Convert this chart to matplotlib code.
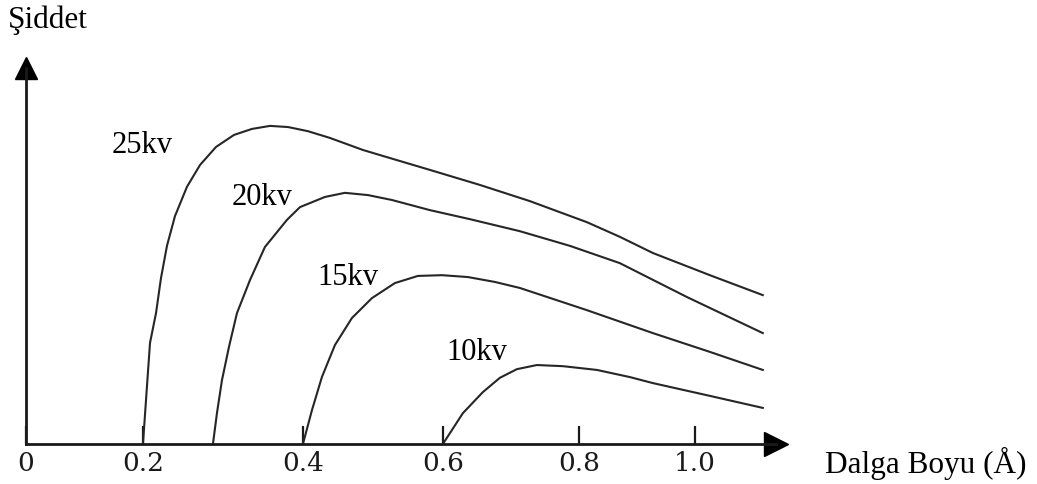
import numpy as np
import matplotlib
matplotlib.use("Agg")
import matplotlib.pyplot as plt

# wavelength (Angstrom) and intensity (arbitrary units)
wl_25 = [0.2, 0.2038, 0.2088, 0.2163, 0.2225, 0.23, 0.24, 0.255, 0.2713, 0.2913,
         0.3138, 0.3363, 0.3588, 0.3813, 0.4071, 0.4386, 0.4857, 0.5343, 0.5814,
         0.6544, 0.7279, 0.8138, 0.8707, 0.9276, 1.0259, 1.1172]
int_25 = [0.0, 1.17, 2.69, 3.48, 4.41, 5.27, 6.06, 6.84, 7.42, 7.90,
          8.22, 8.38, 8.46, 8.43, 8.32, 8.14, 7.82, 7.55, 7.29,
          6.89, 6.46, 5.90, 5.51, 5.08, 4.49, 3.96]

wl_20 = [0.2875, 0.2925, 0.2988, 0.3075, 0.3175, 0.3338, 0.3525, 0.38, 0.3963,
         0.4314, 0.46, 0.4929, 0.5271, 0.5814, 0.6397, 0.7132, 0.7868, 0.8707,
         0.9862, 1.1172]
int_20 = [0.0, 0.82, 1.70, 2.58, 3.48, 4.36, 5.24, 5.96, 6.30,
          6.57, 6.68, 6.62, 6.49, 6.22, 5.98, 5.66, 5.27, 4.81,
          3.91, 2.95]

wl_15 = [0.4, 0.4129, 0.4271, 0.4457, 0.47, 0.4986, 0.5314, 0.5643, 0.5986,
         0.6368, 0.6765, 0.7132, 0.8138, 0.9276, 1.0259, 1.1172]
int_15 = [0.0, 0.90, 1.78, 2.63, 3.35, 3.88, 4.28, 4.47, 4.49,
          4.44, 4.31, 4.15, 3.56, 2.95, 2.45, 1.97]

wl_10 = [0.6, 0.6294, 0.6588, 0.6838, 0.7088, 0.7382, 0.7765, 0.831, 0.8879,
         0.9276, 1.0259, 1.1172]
int_10 = [0.0, 0.82, 1.38, 1.76, 1.99, 2.10, 2.07, 1.97, 1.78,
          1.62, 1.28, 0.96]

labels = ["25kv", "20kv", "15kv", "10kv"]
label_x = [0.198, 0.349, 0.464, 0.650]
label_y = [7.74, 6.36, 4.23, 2.23]

tick_values = [0, 0.2, 0.4, 0.6, 0.8, 1.0]
tick_labels = ["0", "0.2", "0.4", "0.6", "0.8", "1.0"]

# the hand drawn axis is not evenly spaced, so map it piecewise
SCALE_IN = [-1.0, 0.0, 0.2, 0.4, 0.6, 0.8, 1.0, 1.2, 3.0]
SCALE_OUT = [-559, 26, 143, 303, 443, 579, 695, 811, 1855]


def forward(x):
    return np.interp(x, SCALE_IN, SCALE_OUT)


def inverse(p):
    return np.interp(p, SCALE_OUT, SCALE_IN)


line_color = "#262626"
serif = ["Liberation Serif", "DejaVu Serif"]

fig = plt.figure(figsize=(10.37, 4.84), dpi=100)
ax = fig.add_axes([26 / 1037, 40 / 484, 750 / 1037, 376 / 484])

ax.set_xscale("function", functions=(forward, inverse))
ax.set_xlim(0, 1.14)
ax.set_ylim(0, 10)

for wl, inten in [(wl_25, int_25), (wl_20, int_20), (wl_15, int_15), (wl_10, int_10)]:
    ax.plot(wl, inten, color=line_color, linewidth=1.5, solid_joinstyle="round")

for text, x, y in zip(labels, label_x, label_y):
    ax.text(x, y, text, ha="center", va="baseline", fontsize=22, family=serif)

ax.spines["top"].set_visible(False)
ax.spines["right"].set_visible(False)
ax.spines["left"].set_linewidth(2)
ax.spines["bottom"].set_linewidth(2)
ax.spines["left"].set_color("#1a1a1a")
ax.spines["bottom"].set_color("#1a1a1a")

# arrow heads on the axes
ax.plot(1, 0, marker=">", markersize=17, color="black", transform=ax.transAxes, clip_on=False)
ax.plot(0, 1, marker="^", markersize=16, color="black", transform=ax.transAxes, clip_on=False)

ax.set_xticks(tick_values)
ax.set_xticklabels(tick_labels, family="DejaVu Serif", fontsize=19)
ax.xaxis.set_minor_locator(matplotlib.ticker.NullLocator())
ax.tick_params(axis="x", direction="in", length=13, width=1.6, pad=5, colors="#1a1a1a")
ax.set_yticks([])

fig.text(8 / 1037, 1 - 28 / 484, "Şiddet", ha="left", va="baseline", fontsize=22.5, family=serif)
fig.text(825 / 1037, 1 - 473 / 484, "Dalga Boyu (Å)", ha="left", va="baseline", fontsize=22.5, family=serif)

fig.savefig("out.png", dpi=100)
